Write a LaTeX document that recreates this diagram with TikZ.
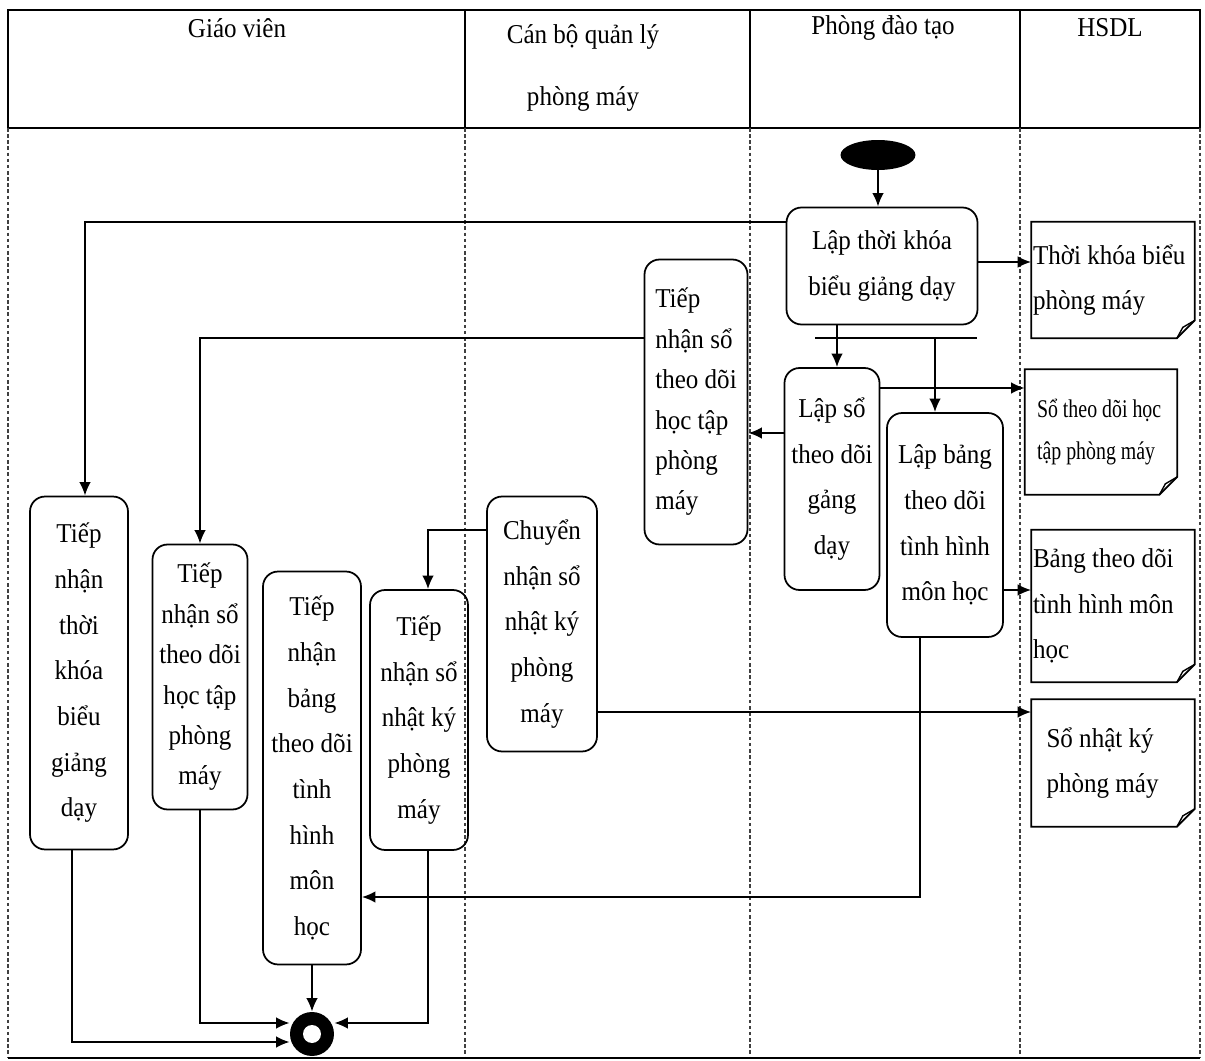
\documentclass[tikz,border=0pt]{standalone}
\usepackage{fontspec}
\setmainfont[FakeStretch=0.92]{Liberation Serif}
\newfontfamily\narrowfont[FakeStretch=0.78]{Liberation Serif}
\usetikzlibrary{shapes.geometric,arrows.meta}

\begin{document}
\begin{tikzpicture}[x=0.02cm, y=-0.02cm,
  every node/.style={font=\fontsize{15.5}{26}\selectfont},
  act/.style={draw, rounded corners=0.3cm, line width=1pt, align=center, inner sep=1pt},
  docnote/.style={align=flush left, inner ysep=2pt, inner xsep=0.03cm, text width=3.2cm},
  lane/.style={dash pattern=on 2pt off 1.5pt, gray!50!black, line width=0.8pt},
  flow/.style={-{Latex[length=0.27cm,width=0.23cm]}, line width=1pt}]
\useasboundingbox (0,0) rectangle (1205,1061);
% swimlanes
\draw[line width=0.9pt] (8,10) rectangle (1200,128);
\draw[line width=1.4pt] (8,128) -- (1200,128);
\foreach \x in {465,750,1020} \draw[line width=0.9pt] (\x,10) -- (\x,128);
\foreach \x in {8,465,750,1020,1200} \draw[lane] (\x,128) -- (\x,1058);
\draw[line width=0.9pt] (8,1058) -- (1200,1058);
\node (hgv) at (237,28) {Giáo viên};
\node (hcb) at (583,68) [align=center, font=\fontsize{15.5}{35}\selectfont] {Cán bộ quản lý\\phòng máy};
\node (hpdt) at (883,28) {Phòng đào tạo};
\node (hsdl) at (1110,28) {HSDL};

% Phong dao tao
\node (init) at (878,155) [ellipse, fill, minimum width=1.5cm, minimum height=0.6cm] {};
\node (a1) at (882,266) [act, minimum width=3.82cm, minimum height=2.34cm] {Lập thời khóa\\biểu giảng dạy};
\node (a2) at (832,479) [act, minimum width=1.9cm, minimum height=4.44cm] {Lập sổ\\theo dõi\\gảng\\dạy};
\node (a3) at (945,525) [act, minimum width=2.32cm, minimum height=4.48cm] {Lập bảng\\theo dõi\\tình hình\\môn học};
\coordinate (forkl) at (815,338);
\coordinate (forkr) at (977,338);

% Can bo quan ly phong may
\node (b1) at (696,402) [act, align=left, minimum width=2.06cm, minimum height=5.7cm,
  font=\fontsize{15.5}{23}\selectfont] {Tiếp\\nhận sổ\\theo dõi\\học tập\\phòng\\máy};
\node (b2) at (542,624) [act, minimum width=2.2cm, minimum height=5.1cm] {Chuyển\\nhận sổ\\nhật ký\\phòng\\máy};

% Giao vien
\node (c1) at (79,673) [act, minimum width=1.96cm, minimum height=7.06cm] {Tiếp\\nhận\\thời\\khóa\\biểu\\giảng\\dạy};
\node (c2) at (200,677) [act, minimum width=1.9cm, minimum height=5.3cm,
  font=\fontsize{15.5}{23}\selectfont] {Tiếp\\nhận sổ\\theo dõi\\học tập\\phòng\\máy};
\node (c3) at (312,768) [act, minimum width=1.96cm, minimum height=7.86cm] {Tiếp\\nhận\\bảng\\theo dõi\\tình\\hình\\môn\\học};
\node (c4) at (419,720) [act, minimum width=1.96cm, minimum height=5.2cm] {Tiếp\\nhận sổ\\nhật ký\\phòng\\máy};
\node (final) at (312,1034) [circle, fill, minimum size=0.88cm, inner sep=0pt] {};
\fill[white] (final) circle (0.18cm);

% HSDL
\node (d1) at (1113,280) [docnote, minimum height=2.32cm] {Thời khóa biểu\\phòng máy};
\node (d2) at (1101,432) [docnote, inner xsep=0.24cm, text width=2.56cm, minimum height=2.5cm,
  font=\narrowfont\fontsize{14.5}{24}\selectfont] {Sổ theo dõi học\\tập phòng máy};
\node (d3) at (1113,606) [docnote, minimum height=3.04cm] {Bảng theo dõi\\tình hình môn\\học};
\node (d4) at (1113,763) [docnote, inner xsep=0.3cm, text width=2.66cm, minimum height=2.54cm] {Sổ nhật ký\\phòng máy};
\foreach \d in {d1,d2,d3,d4} {
  \draw[line width=1pt] (\d.north west) -- (\d.north east) -- ([yshift=0.36cm]\d.south east)
    -- ([xshift=-0.36cm]\d.south east) -- (\d.south west) -- cycle;
  \draw[line width=0.8pt] ([xshift=-0.36cm]\d.south east) -- ([xshift=-0.24cm,yshift=0.22cm]\d.south east)
    -- ([yshift=0.36cm]\d.south east);
}

% flows
\draw[flow] (init) -- (init |- a1.north);
\draw[line width=1pt] (forkl) -- (forkr);
\draw[flow] ([xshift=0.1cm]a2.north |- a1.south) -- ([xshift=0.1cm]a2.north);
\draw[flow] ([xshift=-0.2cm]a3.north |- forkl) -- ([xshift=-0.2cm]a3.north);
\draw[flow] (a1.east |- 0,262) -- (d1.west |- 0,262);
\draw[flow] (a2.east |- 0,388) -- (d2.west |- 0,388);
\draw[flow] (a2.west |- 0,433) -- (b1.east |- 0,433);
\draw[flow] (a3.east |- 0,590) -- (d3.west |- 0,590);
\draw[flow] (a1.west |- 0,222) -| ([xshift=0.12cm]c1.north);
\draw[flow] (b1.west |- 0,338) -| (c2.north);
\draw[flow] ([xshift=-0.5cm]a3.south) |- (c3.east |- 0,897);
\draw[flow] (b2.west |- 0,530) -| ([xshift=0.18cm]c4.north);
\draw[flow] (b2.east |- 0,712) -- (d4.west |- 0,712);
\draw[flow] ([xshift=-0.14cm]c1.south) |- (final.west |- 0,1042);
\draw[flow] (c2.south) |- (final.west |- 0,1023);
\draw[flow] (c3.south) -- (c3.south |- final.north);
\draw[flow] ([xshift=0.18cm]c4.south) |- (final.east |- 0,1023);
\end{tikzpicture}
\end{document}
